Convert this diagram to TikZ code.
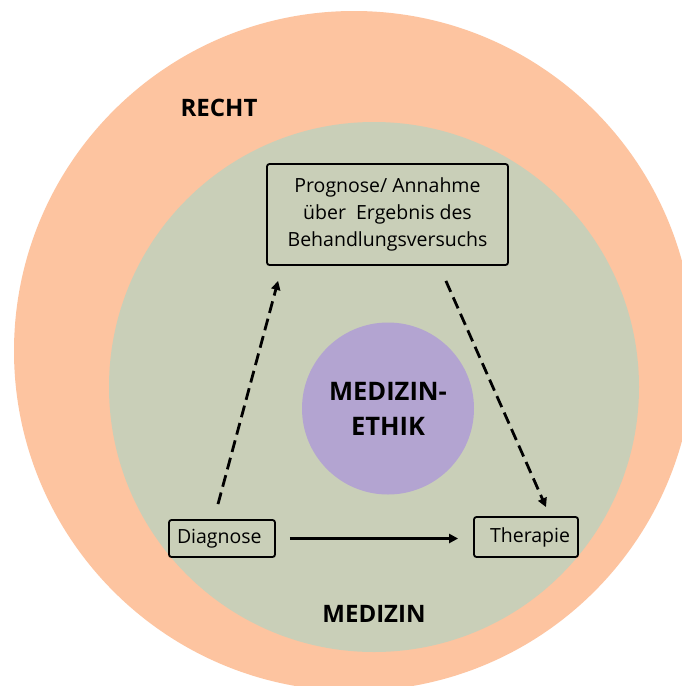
\documentclass[tikz,border=0pt]{standalone}
\usepackage{fontspec}
\setmainfont{Open Sans}
\usetikzlibrary{arrows.meta,calc}
\definecolor{rechtcol}{RGB}{253,196,160}
\definecolor{medcol}{RGB}{201,207,184}
\definecolor{ethikcol}{RGB}{179,164,209}
\begin{document}
\begin{tikzpicture}[x=1pt,y=-1pt,
  stepbox/.style={draw=black, line width=1.8pt, rounded corners=2.5pt, inner sep=0pt},
  boxtext/.style={font=\fontsize{19.5}{27}\selectfont},
  biglabel/.style={font=\fontsize{24}{35}\selectfont\bfseries, align=center},
  dasharrow/.style={line width=2.8pt, dash pattern=on 12pt off 6pt, -{Triangle[length=9pt,width=9pt]}},
  solidarrow/.style={line width=2.8pt, -{Triangle[length=9pt,width=9pt]}}]
\useasboundingbox (0,0) rectangle (682,686);
\clip (0,0) rectangle (682,686);
\fill[white] (0,0) rectangle (682,686);
\fill[rechtcol] (354,351) circle[radius=340pt];
\fill[medcol] (374,387) circle[radius=265pt];
\node[circle, fill=ethikcol, minimum size=172pt, inner sep=0pt, biglabel, font=\fontsize{25.5}{35}\selectfont\bfseries] (ethik) at (388,408.5) {MEDIZIN-\\ETHIK};
\node[biglabel] (recht) at (219,108) {RECHT};
\node[biglabel] (medizin) at (374,614) {MEDIZIN};
\node[stepbox, boxtext, minimum width=241pt, minimum height=101pt, align=center] (prog) at (387.5,214.5) {Prognose/ Annahme\\über\ \ Ergebnis des\\Behandlungsversuchs};
\node[stepbox, boxtext, minimum height=37pt, inner xsep=8pt, text width=90pt, align=left] (diag) at (222,538.5) {Diagnose};
\node[stepbox, boxtext, minimum height=40pt, inner xsep=8pt, text width=88pt, align=right] (ther) at (526,537) {Therapie};
\draw[dasharrow] ([xshift=-4pt,yshift=15pt]diag.north) -- ([xshift=12pt,yshift=-15pt]prog.south west);
\draw[dasharrow] ([xshift=-63pt,yshift=-15pt]prog.south east) -- ([xshift=20pt,yshift=9pt]ther.north);
\draw[solidarrow, shorten <=14pt, shorten >=15pt] (diag.east) -- (diag.east -| ther.west);
\end{tikzpicture}
\end{document}
